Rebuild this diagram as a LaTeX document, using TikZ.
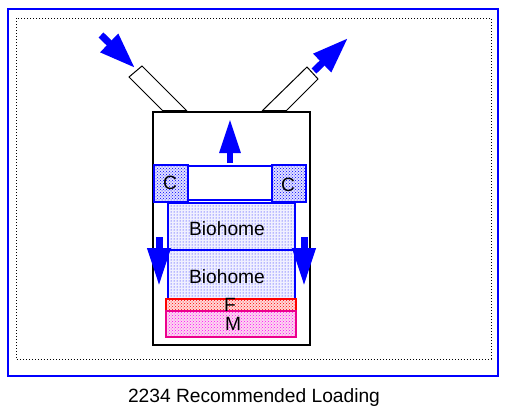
\documentclass[tikz,border=0pt]{standalone}
\usepackage{fontspec}
\setmainfont{Liberation Sans}
\usetikzlibrary{arrows.meta,patterns}
\begin{document}
\begin{tikzpicture}[x=1pt,y=-1pt,
  lbl/.style={inner sep=0pt,font=\fontsize{19.2}{21}\selectfont},
  bigarrow/.style={blue,line width=7pt,-{Triangle[length=36pt,width=24pt]}},
  cbox/.style={draw=blue,line width=1.2pt,preaction={fill=blue!12},pattern=crosshatch dots,pattern color=blue},
  biobox/.style={draw=blue,line width=1.2pt,preaction={fill=blue!6},pattern=dots,pattern color=blue},
  tube/.style={draw=black,line width=1pt,fill=white}]
\useasboundingbox (0,0) rectangle (509,410);
% frames
\draw[blue,line width=2pt] (8,9) rectangle (498,376);
\draw[black,line width=0.8pt,dash pattern=on 0.8pt off 2.2pt] (16,18) rectangle (491,359);
% tubes
\draw[tube] (163,111) -- (129,77) -- (142,66) -- (187,111);
\draw[tube] (262,111) -- (307,67) -- (318,79) -- (286,111);
% canister
\draw[black,line width=2pt] (153,112) rectangle (310,345);
\draw[black,line width=3pt] (163,111) -- (187,111);
\draw[black,line width=3pt] (262,111) -- (286,111);
% C boxes
\draw[cbox] (154,165) rectangle (188,202);
\draw[cbox] (272,165) rectangle (306,202);
\draw[blue,line width=1.2pt,fill=white] (188,166) rectangle (272,200);
\draw[blue,line width=1pt] (188,202) -- (272,202);
\node[lbl] (c1) at (170,183) {C};
\node[lbl] (c2) at (288,185) {C};
% biohome
\draw[biobox] (168,203) rectangle (295,250);
\draw[biobox] (168,250) rectangle (295,299);
\node[lbl] (b1) at (227,229) {Biohome};
\node[lbl] (b2) at (227,277) {Biohome};
% F and M
\draw[draw=red,line width=1.5pt,preaction={fill=red!15},pattern=crosshatch dots,pattern color=red] (166,299) rectangle (296,311);
\draw[draw=magenta,line width=1.5pt,preaction={fill=magenta!15},pattern=crosshatch dots,pattern color=magenta] (166,311) rectangle (296,337);
\node[lbl] (f) at (230,305) {F};
\node[lbl] (m) at (233,324) {M};
% arrows
\coordinate (la1) at (101,35); \coordinate (la2) at (135,68);
\coordinate (ra1) at (314,71); \coordinate (ra2) at (348,38);
\coordinate (u1) at (230,163); \coordinate (u2) at (230,119);
\coordinate (d1) at (159,237); \coordinate (d2) at (159,286);
\coordinate (e1) at (304,237); \coordinate (e2) at (304,286);
\draw[bigarrow] (la1) -- (la2);
\draw[bigarrow] (ra1) -- (ra2);
\draw[bigarrow,line width=6pt,-{Triangle[length=34pt,width=20pt]}] (u1) -- (u2);
\draw[bigarrow,-{Triangle[length=38pt,width=22pt]}] (d1) -- (d2);
\draw[bigarrow,-{Triangle[length=38pt,width=22pt]}] (e1) -- (e2);
% caption
\node[lbl] (cap) at (254,398) {2234 Recommended Loading};
\end{tikzpicture}
\end{document}
